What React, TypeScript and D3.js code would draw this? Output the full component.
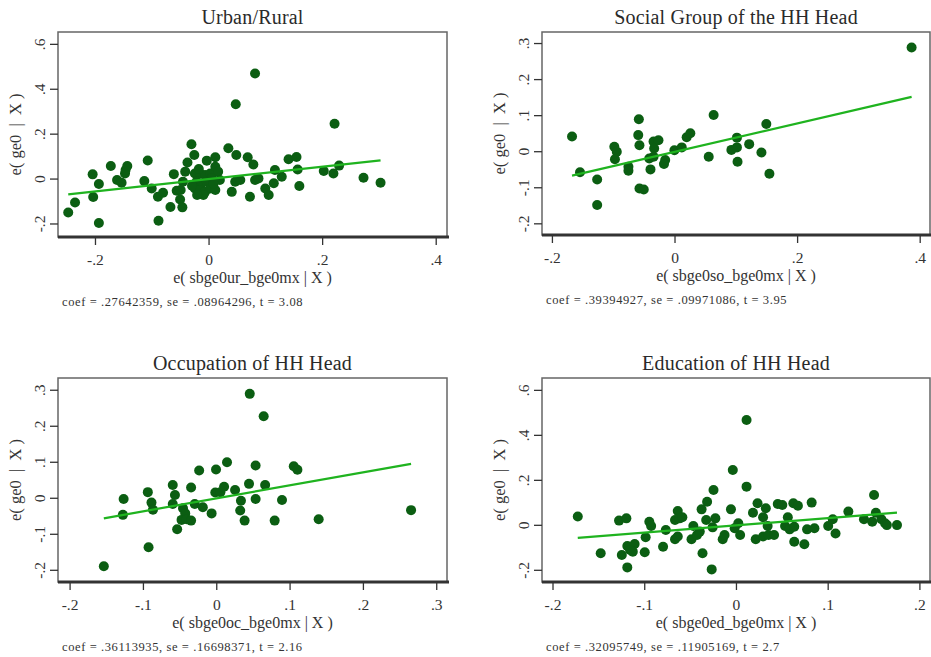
import React from "react";
import * as d3 from "d3";

// added-variable plots: residual pairs
const urbanX = [-0.248, -0.236, -0.205, -0.204, -0.194, -0.194, -0.173, -0.162, -0.154, -0.148, -0.147, -0.144, -0.114, -0.108, -0.101, -0.09, -0.089, -0.081, -0.068, -0.062, -0.057, -0.05, -0.051, -0.047, -0.046, -0.042, -0.038, -0.031, -0.026, -0.025, -0.016, -0.007, 0.002, -0.022, -0.013, -0.004, -0.025, -0.016, -0.007, 0.002, 0.011, -0.01, -0.021, -0.004, 0.011, 0.011, 0.016, 0.019, 0.034, 0.048, 0.068, 0.078, 0.04, 0.046, 0.055, 0.072, 0.081, 0.087, 0.099, 0.105, 0.114, 0.116, 0.128, 0.14, 0.154, 0.156, 0.159, 0.047, 0.081, 0.202, 0.219, 0.221, 0.229, 0.272, 0.302, -0.03, 0.005, -0.018, 0.008];
const urbanY = [-0.149, -0.104, 0.021, -0.08, -0.196, -0.022, 0.058, -0.004, -0.016, 0.025, 0.04, 0.058, -0.009, 0.083, -0.042, -0.079, -0.186, -0.061, -0.124, 0.022, -0.052, -0.049, -0.091, -0.126, -0.012, 0.033, 0.074, 0.155, 0.107, 0.025, 0.025, 0.018, 0.025, -0.012, -0.019, -0.012, -0.042, -0.049, -0.057, -0.042, -0.049, -0.071, -0.071, 0.082, 0.097, 0.055, 0.033, -0.004, 0.137, 0.107, 0.097, 0.065, -0.057, -0.012, -0.004, -0.079, -0.004, 0.003, -0.042, -0.071, -0.019, 0.04, 0.01, 0.088, 0.098, 0.043, -0.031, 0.333, 0.47, 0.036, 0.025, 0.246, 0.06, 0.006, -0.016, -0.03, 0.005, 0.045, -0.02];

const socialX = [-0.168, -0.155, -0.127, -0.127, -0.099, -0.095, -0.098, -0.076, -0.076, -0.059, -0.06, -0.058, -0.058, -0.051, -0.04, -0.042, -0.035, -0.027, -0.034, -0.035, -0.016, -0.018, -0.001, 0.011, 0.019, 0.025, 0.055, 0.063, 0.092, 0.101, 0.101, 0.102, 0.121, 0.141, 0.149, 0.154, 0.386];
const socialY = [0.042, -0.057, -0.077, -0.148, 0.014, 0.0, -0.021, -0.042, -0.053, 0.09, 0.046, 0.018, -0.102, -0.105, -0.049, -0.019, 0.028, 0.032, 0.009, -0.014, -0.023, -0.034, 0.004, 0.012, 0.04, 0.051, -0.014, 0.102, 0.005, 0.012, 0.039, -0.028, 0.021, -0.002, 0.077, -0.061, 0.289];

const occupX = [-0.154, -0.127, -0.128, -0.094, -0.089, -0.087, -0.093, -0.06, -0.057, -0.06, -0.054, -0.046, -0.043, -0.048, -0.041, -0.035, -0.035, -0.03, -0.024, -0.019, -0.007, -0.001, -0.002, 0.005, 0.01, 0.014, 0.025, 0.033, 0.032, 0.038, 0.044, 0.045, 0.053, 0.053, 0.064, 0.066, 0.079, 0.089, 0.105, 0.11, 0.139, 0.265];
const occupY = [-0.189, -0.002, -0.046, 0.017, -0.012, -0.032, -0.136, 0.037, 0.009, -0.016, -0.086, -0.028, -0.042, -0.06, -0.058, -0.062, 0.03, -0.016, 0.077, -0.025, -0.042, 0.08, 0.016, 0.017, 0.032, 0.1, 0.023, -0.007, -0.034, -0.062, 0.04, 0.29, 0.091, -0.002, 0.228, 0.037, -0.062, -0.005, 0.089, 0.079, -0.058, -0.033];

const educX = [-0.173, -0.148, -0.128, -0.12, -0.125, -0.119, -0.111, -0.116, -0.113, -0.119, -0.099, -0.095, -0.093, -0.1, -0.08, -0.077, -0.067, -0.064, -0.062, -0.059, -0.067, -0.064, -0.049, -0.047, -0.043, -0.04, -0.037, -0.038, -0.032, -0.033, -0.025, -0.023, -0.026, -0.015, -0.013, -0.006, -0.004, -0.002, 0.002, -0.027, 0.011, 0.011, 0.004, 0.018, 0.023, 0.029, 0.032, 0.021, 0.029, 0.035, 0.041, 0.034, 0.045, 0.05, 0.062, 0.067, 0.056, 0.053, 0.058, 0.063, 0.063, 0.074, 0.077, 0.085, 0.082, 0.1, 0.105, 0.108, 0.122, 0.139, 0.148, 0.15, 0.152, 0.158, 0.162, 0.164, 0.175];
const educY = [0.039, -0.124, 0.021, 0.031, -0.132, -0.092, -0.083, -0.11, -0.117, -0.187, -0.053, 0.016, -0.003, -0.12, -0.095, -0.021, 0.024, 0.064, 0.031, 0.036, -0.062, -0.05, -0.062, -0.003, -0.043, -0.028, -0.124, 0.071, 0.105, 0.024, 0.157, 0.031, -0.009, -0.062, -0.043, 0.071, 0.246, -0.013, 0.009, -0.196, 0.172, 0.468, -0.043, 0.056, 0.098, 0.036, 0.076, -0.062, -0.05, -0.043, -0.043, -0.003, 0.095, 0.09, 0.098, 0.087, 0.036, -0.003, -0.018, -0.006, -0.073, -0.084, -0.018, -0.013, 0.101, -0.003, 0.027, -0.036, 0.061, 0.027, 0.016, 0.135, 0.056, 0.027, 0.009, 0.001, 0.001];

const titles = ["Urban/Rural", "Social Group of the HH Head", "Occupation of HH Head", "Education of HH Head"];
const xTitles = ["e( sbge0ur_bge0mx | X )", "e( sbge0so_bge0mx | X )", "e( sbge0oc_bge0mx | X )", "e( sbge0ed_bge0mx | X )"];
const coefs = [0.27642359, 0.39394927, 0.36113935, 0.32095749];
const notes = [
  "coef = .27642359, se = .08964296, t = 3.08",
  "coef = .39394927, se = .09971086, t = 3.95",
  "coef = .36113935, se = .16698371, t = 2.16",
  "coef = .32095749, se = .11905169, t = 2.7",
];
const xTicks = [[-0.2, 0, 0.2, 0.4], [-0.2, 0, 0.2, 0.4], [-0.2, -0.1, 0, 0.1, 0.2, 0.3], [-0.2, -0.1, 0, 0.1, 0.2]];
const yTicks = [[-0.2, 0, 0.2, 0.4, 0.6], [-0.2, -0.1, 0, 0.1, 0.2, 0.3], [-0.2, -0.1, 0, 0.1, 0.2, 0.3], [-0.2, 0, 0.2, 0.4, 0.6]];
const xDomains = [[-0.266, 0.419], [-0.217, 0.416], [-0.2165, 0.314], [-0.212, 0.211]];
const yDomains = [[-0.258, 0.655], [-0.231, 0.332], [-0.2325, 0.334], [-0.252, 0.655]];

const boxes = [
  { left: 58, right: 447, top: 32, bottom: 237 },
  { left: 542, right: 930, top: 32, bottom: 235 },
  { left: 58, right: 447, top: 378, bottom: 582 },
  { left: 542, right: 930, top: 378, bottom: 582 },
];

const fmt = (d: number) => (d === 0 ? "0" : String(d).replace("0.", "."));
const FONT = "'Liberation Serif', 'DejaVu Serif', serif";

function Panel({ i }: { i: number }) {
  const b = boxes[i];
  const xs = [urbanX, socialX, occupX, educX][i];
  const ys = [urbanY, socialY, occupY, educY][i];
  const x = d3.scaleLinear().domain(xDomains[i]).range([b.left, b.right]);
  const y = d3.scaleLinear().domain(yDomains[i]).range([b.bottom, b.top]);
  const [x0, x1] = d3.extent(xs) as [number, number];
  const line = d3
    .line<number>()
    .x((d) => x(d))
    .y((d) => y(coefs[i] * d));
  const cx = (b.left + b.right) / 2;
  const cy = (b.top + b.bottom) / 2;

  return (
    <g fontFamily={FONT}>
      <text x={cx} y={b.top - 8} textAnchor="middle" fontSize={20} letterSpacing={0.2} fill="#2a2a2a">
        {titles[i]}
      </text>
      <rect x={b.left} y={b.top} width={b.right - b.left} height={b.bottom - b.top} fill="#fff" stroke="#666" strokeWidth={1.5} />
      <line x1={b.left} x2={b.right + 2} y1={b.bottom} y2={b.bottom} stroke="#333" strokeWidth={3} />
      {yTicks[i].map((t) => (
        <g key={"y" + t}>
          <line x1={b.left - 8} x2={b.left} y1={y(t)} y2={y(t)} stroke="#333" strokeWidth={1.3} />
          <text transform={`translate(${b.left - 13},${y(t)}) rotate(-90)`} textAnchor="middle" fontSize={15.5} fill="#333">
            {fmt(t)}
          </text>
        </g>
      ))}
      {xTicks[i].map((t) => (
        <g key={"x" + t}>
          <line x1={x(t)} x2={x(t)} y1={b.bottom} y2={b.bottom + 8} stroke="#333" strokeWidth={1.3} />
          <text x={x(t)} y={b.bottom + 28} textAnchor="middle" fontSize={15.5} fill="#333">
            {fmt(t)}
          </text>
        </g>
      ))}
      <text transform={`translate(${b.left - 37},${cy}) rotate(-90)`} textAnchor="middle" fontSize={16.5} fill="#333" style={{ whiteSpace: "pre" }}>
        {"e( ge0  |  X )"}
      </text>
      <text x={cx} y={b.bottom + 46} textAnchor="middle" fontSize={16} fill="#333">
        {xTitles[i]}
      </text>
      <text x={b.left + 4} y={b.bottom + 69} fontSize={12.5} letterSpacing={0.6} fill="#333">
        {notes[i]}
      </text>
      {xs.map((v, k) => (
        <circle key={k} cx={x(v)} cy={y(ys[k])} r={5} fill="#0b5e12" />
      ))}
      <path d={line([x0, x1]) || ""} fill="none" stroke="#1fb31f" strokeWidth={2.2} />
    </g>
  );
}

export default function App() {
  return (
    <svg width={931} height={657} style={{ position: "absolute", left: 0, top: 0, background: "#fff" }}>
      <rect width={931} height={657} fill="#fff" />
      {[0, 1, 2, 3].map((i) => (
        <Panel key={i} i={i} />
      ))}
    </svg>
  );
}
